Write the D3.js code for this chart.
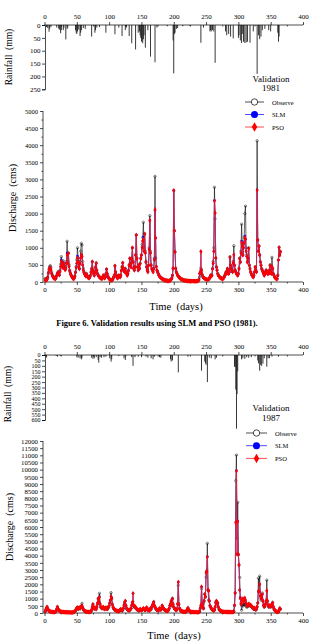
<!DOCTYPE html>
<html>
<head>
<meta charset="utf-8">
<script src="https://cdn.jsdelivr.net/npm/d3@7"></script>
<style>
  body { margin: 0; background: #fff; }
  svg { display: block; }
  text { font-family: "Liberation Serif", "Times New Roman", serif; fill: #000; }
</style>
</head>
<body>
<script>
// ---- data ----
var xTicks = [0, 50, 100, 150, 200, 250, 300, 350, 400];
var legendNames = ["Observe", "SLM", "PSO"];

// 1981: rainfall [day, mm]
var rain1981 = [[3,8],[5,12],[7,26],[8,15],[10,8],[19,10],[22,14],[23,18],[25,32],[26,20],[29,20],[30,12],[33,56],[35,15],[36,10],
  [48,20],[49,30],[50,35],[51,25],[53,18],[55,43],[56,30],[57,20],[60,12],[63,15],[73,45],[78,30],[79,20],[81,10],[85,8],[95,30],
  [109,36],[115,10],[120,43],[125,20],[127,10],[131,43],[135,71],[141,95],[145,30],[147,25],[148,40],[149,50],[150,65],[151,60],
  [152,71],[153,55],[154,40],[156,88],[160,20],[164,123],[171,145],[174,10],[190,5],[199,60],[200,188],[201,35],[202,30],[204,15],
  [206,12],[214,5],[225,3],[242,69],[246,10],[256,25],[257,20],[258,25],[260,20],[262,25],[264,147],[280,25],[282,40],[285,35],
  [288,45],[292,52],[300,50],[301,40],[303,60],[305,70],[306,35],[308,65],[310,70],[312,68],[314,65],[318,69],[323,25],[329,190],
  [331,40],[333,55],[335,45],[337,20],[341,15],[347,20],[350,25],[361,30],[362,65],[363,45]];

// 1981: daily discharge, day 1..365
var obs1981 = [
  100,90,80,90,120,250,380,450,480,420, 300,220,180,150,130,110,100,120,180,250,
  300,280,220,350,520,740,600,480,620,550, 420,380,450,600,1190,600,840,500,350,280,
  220,180,150,120,100,120,180,300,450,650, 1000,700,500,400,600,900,1130,1080,600,400,
  300,250,220,180,250,200,150,130,120,150, 200,300,400,595,350,250,200,300,450,565,
  350,250,200,180,150,130,120,110,100,150, 200,150,120,150,250,380,250,180,130,100,
  80,70,60,60,70,100,150,200,480,300, 200,150,120,150,200,180,150,200,350,450,
  565,400,350,300,400,300,250,200,250,350, 500,690,550,450,700,1000,600,400,350,450,
  800,1375,700,450,350,500,400,550,700,800, 1100,1300,1745,1000,1420,900,600,450,350,300,
  500,1000,1940,900,500,400,350,300,400,700, 3090,700,450,350,300,250,200,180,150,130,
  120,100,90,80,70,60,55,50,50,45, 40,40,45,50,60,80,120,200,400,2670,
  1500,880,400,300,250,200,180,150,130,110, 100,90,80,70,60,55,50,50,45,45,
  40,40,40,40,35,35,35,35,35,35, 35,30,30,30,30,35,40,50,70,150,
  250,400,300,200,150,130,110,100,90,80, 80,70,70,80,100,150,200,180,200,400,
  600,1000,2770,1850,700,450,350,250,200,180, 150,130,120,110,100,100,120,150,200,250,
  300,250,400,350,250,300,740,500,400,350, 300,600,1060,500,350,300,250,220,200,250,
  400,700,600,900,1690,1100,800,1100,1300,2000, 2220,1000,800,600,700,1000,500,400,300,250,
  200,180,150,200,300,450,350,300,4130,1230, 900,1050,800,600,500,400,350,300,250,200,
  250,300,350,300,250,300,250,350,500,300, 250,720,400,250,200,150,130,110,100,100,
  200,650,1020,800,900];
var pso1981 = [
  60,50,50,70,150,280,350,420,400,350, 250,180,150,120,100,100,90,150,200,250,
  280,250,200,300,450,600,500,420,560,500, 380,350,400,550,800,550,840,450,320,250,
  200,160,130,100,90,110,160,280,420,550, 700,600,450,380,550,700,800,750,500,350,
  280,230,200,170,230,180,140,120,110,140, 180,280,380,595,330,240,190,280,420,540,
  330,240,190,170,140,120,110,100,90,140, 190,140,110,140,230,370,240,170,120,90,
  70,60,50,50,60,90,140,190,470,290, 190,140,110,140,190,170,140,190,330,430,
  560,390,330,290,380,290,240,190,240,330, 480,690,530,430,680,1000,580,390,340,430,
  780,1375,680,430,340,480,390,530,680,780, 1000,1200,1250,900,1400,850,580,430,340,290,
  480,950,1800,850,480,380,340,290,380,650, 2130,1290,450,340,290,240,190,170,140,120,
  110,90,80,70,60,50,45,40,40,35, 30,30,35,40,50,70,110,190,400,2680,
  1500,880,390,290,240,190,170,140,120,100, 90,80,70,60,50,45,40,40,35,35,
  30,30,30,30,25,25,25,25,25,25, 25,20,20,20,20,25,30,40,60,250,
  300,890,350,220,160,130,110,100,90,80, 75,70,70,80,100,140,190,170,190,380,
  550,900,2370,2020,700,430,340,240,190,170, 140,120,110,100,90,90,110,140,190,240,
  290,240,380,340,240,290,720,480,380,340, 290,560,800,480,340,290,240,210,190,240,
  380,680,580,850,1150,1050,780,1000,1150,1300, 1250,900,750,580,680,980,480,380,290,240,
  190,170,140,190,290,430,340,290,2680,1230, 900,1050,780,580,480,380,340,290,240,190,
  240,290,340,290,240,290,240,340,480,290, 240,450,380,240,190,140,120,100,90,90,
  190,640,1000,780,880];
// SLM follows PSO almost everywhere; days where it differs
var slm1981Diff = {26: 650, 35: 850, 51: 760, 153: 1320, 171: 2100, 263: 2390, 305: 1200, 310: 1350, 329: 2700};

// 1987
var rain1987 = [[2,10],[3,22],[18,8],[20,15],[25,8],[50,20],[52,25],[55,30],[57,40],[58,25],[73,25],[75,35],[77,30],[80,20],
  [83,45],[84,70],[86,20],[88,25],[92,20],[95,15],[101,30],[103,62],[104,40],[115,10],[123,30],[125,46],[135,20],[137,100],
  [140,20],[145,15],[150,20],[157,15],[160,25],[165,30],[168,40],[170,15],[178,20],[180,25],[195,40],[196,60],[198,50],
  [207,160],[222,15],[243,145],[248,60],[249,77],[250,90],[252,250],[255,25],[258,30],[264,40],[266,25],[294,108],[295,110],
  [296,320],[297,680],[298,360],[299,150],[305,40],[307,30],[310,35],[313,20],[316,25],[320,20],[330,50],[331,77],[333,145],
  [334,90],[336,100],[338,80],[340,30],[344,108],[346,30],[348,30],[352,15],[362,15]];
var obs1987 = [
  100,200,300,440,300,200,150,120,100,90, 80,70,70,60,60,60,80,120,250,440,
  300,200,150,120,100,90,80,70,70,60, 60,55,55,50,50,50,45,45,45,45,
  40,40,40,50,60,80,100,150,250,300, 350,250,300,350,300,400,500,670,400,250,
  200,150,120,100,90,80,80,70,70,70, 80,100,200,400,630,400,300,350,300,250,
  400,600,1000,700,1370,600,400,350,300,350, 400,300,250,300,350,300,250,300,400,500,
  700,900,1420,1000,600,400,300,250,200,180, 150,130,120,110,100,150,200,250,200,150,
  200,300,500,700,840,500,300,250,200,180, 150,200,250,300,500,700,800,500,400,450,
  350,300,250,200,180,150,200,250,200,180, 200,250,300,250,200,180,250,350,300,200,
  180,150,200,300,250,400,500,600,770,500, 400,300,250,200,180,150,200,300,250,200,
  300,500,400,300,250,200,180,150,130,120, 150,200,300,500,600,800,500,1020,600,400,
  300,250,200,180,250,600,1930,600,300,200, 150,120,100,90,80,80,70,70,80,150,
  250,350,200,150,100,80,70,60,60,55, 50,50,50,50,50,45,45,50,60,100,
  300,500,1700,600,400,300,800,1330,1100,2500, 2900,4860,1600,900,800,500,400,300,250,200,
  180,150,200,400,700,840,600,700,400,250, 200,150,120,100,90,80,80,70,70,70,
  60,60,60,60,55,55,55,50,50,50, 50,60,100,500,1400,9230,11020,5200,7730,4050,
  3350,2480,1000,600,200,500,600,500,600,700, 600,500,400,450,500,600,500,550,500,450,
  400,350,300,250,300,250,200,250,400,700, 2430,1500,2570,1100,900,1200,1400,800,500,400,
  450,600,800,2300,800,500,400,450,500,400, 500,600,750,400,250,200,150,100,80,70,
  60,80,200,300,250];
var pso1987 = [
  100,250,350,420,300,200,150,120,100,90, 80,70,70,60,60,60,80,150,300,420,
  300,200,150,120,100,90,80,70,70,60, 60,55,55,50,50,50,45,45,45,45,
  40,40,40,50,60,80,120,200,300,350, 380,300,350,380,320,400,450,500,380,250,
  200,150,120,100,90,80,80,70,70,70, 80,120,250,450,600,400,300,380,320,280,
  450,700,1000,800,1100,650,420,380,330,380, 420,330,280,320,380,330,280,330,420,500,
  700,900,1150,1050,600,420,330,280,220,200, 170,150,140,130,120,170,230,280,220,170,
  230,330,550,750,840,520,330,280,230,200, 170,230,280,330,550,750,1370,550,430,480,
  380,330,280,230,200,170,230,280,230,200, 230,280,330,280,230,200,280,380,330,230,
  200,170,230,330,280,430,550,650,770,530, 430,330,280,230,200,170,230,330,280,230,
  330,520,430,330,280,230,200,170,150,140, 170,230,330,520,650,850,550,1000,620,420,
  330,280,230,200,280,650,2160,620,330,230, 170,140,120,100,90,90,80,80,90,170,
  280,350,230,170,120,90,80,70,70,65, 60,60,60,60,60,55,55,60,70,120,
  350,550,1840,650,430,330,850,1300,1150,2800, 2900,3900,1600,1550,850,530,430,330,280,230,
  200,170,230,430,750,840,650,720,430,280, 230,170,140,120,100,90,90,80,80,80,
  70,70,70,70,65,65,65,60,60,60, 60,70,120,550,1400,6300,9900,4100,6400,4100,
  3350,1600,1050,700,600,900,1000,800,1000,1050, 900,700,550,500,550,650,550,600,550,500,
  450,400,350,300,350,300,250,300,450,700, 1500,1500,2000,1200,1000,1100,1300,850,550,450,
  500,650,850,1550,850,550,450,500,550,450, 550,600,700,450,300,230,170,120,90,80,
  70,90,230,330,280];
var slm1987Diff = {85: 1150, 251: 2950, 252: 3950, 296: 6350, 297: 9950, 303: 1100};

// ---- drawing ----
var svg = d3.select("body").append("svg")
    .attr("width", 316)
    .attr("height", 641);

var x = d3.scaleLinear().domain([0, 400]).range([44.5, 303]);
var fmt = d3.format("d");

function toSeries(values) {
    return values.map(function (v, i) { return {day: i + 1, q: v}; });
}

function withDiff(base, diff) {
    return base.map(function (v, i) { return diff[i + 1] !== undefined ? diff[i + 1] : v; });
}

function styleAxis(g, size) {
    g.attr("font-family", null);
    g.selectAll("path, line").attr("stroke", "#000").attr("stroke-width", 0.7);
    g.selectAll("text").attr("font-size", size);
}

function DrawPanel(p) {
    var g = svg.append("g");

    // rainfall (hanging bars)
    var yRain = d3.scaleLinear().domain([0, p.rainMax]).range([p.rainTop, p.rainBottom]);

    g.append("g").selectAll("rect")
        .data(p.rain)
        .enter().append("rect")
        .attr("x", function (d) { return x(d[0]) - 0.45; })
        .attr("y", p.rainTop)
        .attr("width", 0.9)
        .attr("height", function (d) { return yRain(d[1]) - p.rainTop; })
        .attr("fill", "#222");

    var topAxis = g.append("g")
        .attr("transform", "translate(0," + p.rainTop + ")")
        .call(d3.axisTop(x).tickValues(xTicks).tickFormat(fmt).tickSize(3).tickPadding(3));
    topAxis.select(".domain").attr("d", "M" + x(0) + ",0H" + x(400));
    styleAxis(topAxis, 7);

    g.append("g")
        .attr("transform", "translate(0," + p.rainTop + ")")
        .call(d3.axisBottom(x).tickValues(d3.range(25, 400, 50)).tickSize(1.5).tickFormat(""))
        .call(function (a) { a.select(".domain").remove(); styleAxis(a, 7); });

    var rainAxis = g.append("g")
        .attr("transform", "translate(45,0)")
        .call(d3.axisLeft(yRain).tickValues(p.rainTicks).tickFormat(fmt).tickSize(3).tickPadding(1.5));
    styleAxis(rainAxis, p.rainFont);

    g.append("text")
        .attr("transform", "translate(" + p.rainLabelX + "," + p.rainLabelY + ") rotate(-90)")
        .attr("text-anchor", "middle")
        .attr("dominant-baseline", "central")
        .attr("font-size", 9.5)
        .text("Rainfall\u00a0 (mm)");

    g.append("text").attr("x", 271).attr("y", p.valY)
        .attr("text-anchor", "middle").attr("font-size", 9)
        .text("Validation");
    g.append("text").attr("x", 271).attr("y", p.valY + 9.5)
        .attr("text-anchor", "middle").attr("font-size", 9)
        .text(p.year);

    // discharge
    var y = d3.scaleLinear().domain([0, p.qMax]).range([p.qBottom, p.qTop]);

    var bottomAxis = g.append("g")
        .attr("transform", "translate(0," + p.qBottom + ")")
        .call(d3.axisBottom(x).tickValues(xTicks).tickFormat(fmt).tickSize(3).tickPadding(2.5));
    bottomAxis.select(".domain").attr("d", "M43,0H" + x(400));
    styleAxis(bottomAxis, 7);

    g.append("g")
        .attr("transform", "translate(0," + p.qBottom + ")")
        .call(d3.axisBottom(x).tickValues(d3.range(25, 400, 50)).tickSize(1.5).tickFormat(""))
        .call(function (a) { a.select(".domain").remove(); styleAxis(a, 7); });

    var qAxis = g.append("g")
        .attr("transform", "translate(43,0)")
        .call(d3.axisLeft(y).tickValues(d3.range(0, p.qMax + 1, 500)).tickFormat(fmt).tickSize(3).tickPadding(2));
    qAxis.select(".domain").attr("d", "M0," + p.qBottom + "V" + p.qTop);
    styleAxis(qAxis, p.qFont);

    if (p.qMinor) {
        g.append("g")
            .attr("transform", "translate(43,0)")
            .call(d3.axisLeft(y).tickValues(d3.range(250, p.qMax, 500)).tickSize(1.5).tickFormat(""))
            .call(function (a) { a.select(".domain").remove(); styleAxis(a, 6); });
    }

    g.append("text")
        .attr("transform", "translate(" + p.qLabelX + "," + p.qLabelY + ") rotate(-90)")
        .attr("text-anchor", "middle")
        .attr("dominant-baseline", "central")
        .attr("font-size", 10)
        .text("Discharge\u00a0 (cms)");

    g.append("text")
        .attr("x", p.timeX).attr("y", p.timeY)
        .attr("text-anchor", "middle")
        .attr("dominant-baseline", "central")
        .attr("font-size", 10.5)
        .text("Time\u00a0 (days)");

    var line = d3.line()
        .x(function (d) { return x(d.day); })
        .y(function (d) { return y(d.q); });

    var obs = toSeries(p.obs), slm = toSeries(p.slm), pso = toSeries(p.pso);

    // observed
    g.append("path").datum(obs)
        .attr("d", line).attr("fill", "none")
        .attr("stroke", "#000").attr("stroke-width", 0.6);
    g.append("g").selectAll("circle").data(obs).enter().append("circle")
        .attr("cx", function (d) { return x(d.day); })
        .attr("cy", function (d) { return y(d.q); })
        .attr("r", 1.2)
        .attr("fill", "none").attr("stroke", "#000").attr("stroke-width", 0.45);

    // SLM
    g.append("path").datum(slm)
        .attr("d", line).attr("fill", "none")
        .attr("stroke", "#2020ff").attr("stroke-width", 0.6);
    g.append("g").selectAll("circle").data(slm).enter().append("circle")
        .attr("cx", function (d) { return x(d.day); })
        .attr("cy", function (d) { return y(d.q); })
        .attr("r", 1.2)
        .attr("fill", "#0000ff");

    // PSO
    g.append("path").datum(pso)
        .attr("d", line).attr("fill", "none")
        .attr("stroke", "#ff2020").attr("stroke-width", 0.7);
    var diamond = d3.symbol().type(d3.symbolDiamond).size(7)();
    g.append("g").selectAll("path").data(pso).enter().append("path")
        .attr("d", diamond)
        .attr("transform", function (d) { return "translate(" + x(d.day) + "," + y(d.q) + ")"; })
        .attr("fill", "#ff0000");

    // legend
    var leg = g.append("g");
    var colors = ["#000", "#0000ff", "#ff0000"];
    legendNames.forEach(function (name, i) {
        var ly = p.legY + i * p.legStep;
        leg.append("line")
            .attr("x1", p.legX1).attr("x2", p.legX2)
            .attr("y1", ly).attr("y2", ly)
            .attr("stroke", colors[i]).attr("stroke-width", 0.7);
        var mx = (p.legX1 + p.legX2) / 2;
        if (i === 0) {
            leg.append("circle").attr("cx", mx).attr("cy", ly).attr("r", 3.2)
                .attr("fill", "#fff").attr("stroke", "#000").attr("stroke-width", 0.7);
        } else if (i === 1) {
            leg.append("circle").attr("cx", mx).attr("cy", ly).attr("r", 3.5)
                .attr("fill", "#0000ff");
        } else {
            leg.append("path").attr("d", d3.symbol().type(d3.symbolDiamond).size(26)())
                .attr("transform", "translate(" + mx + "," + ly + ")")
                .attr("fill", "#ff0000");
        }
        leg.append("text")
            .attr("x", p.legX2 + 8).attr("y", ly)
            .attr("dominant-baseline", "central")
            .attr("font-size", 6.5)
            .text(name);
    });
}

DrawPanel({
    year: "1981",
    rain: rain1981, rainMax: 250, rainTop: 25, rainBottom: 89.3,
    rainTicks: [0, 50, 100, 150, 200, 250], rainFont: 7,
    rainLabelX: 9, rainLabelY: 57, valY: 81.5,
    obs: obs1981, pso: pso1981, slm: withDiff(pso1981, slm1981Diff),
    qMax: 5000, qTop: 111, qBottom: 282, qFont: 6.5, qMinor: true,
    qLabelX: 12, qLabelY: 198, timeX: 176, timeY: 306,
    legY: 102, legStep: 12.5, legX1: 245, legX2: 264
});

DrawPanel({
    year: "1987",
    rain: rain1987, rainMax: 600, rainTop: 355, rainBottom: 420,
    rainTicks: d3.range(0, 601, 50), rainFont: 6,
    rainLabelX: 8, rainLabelY: 394, valY: 411,
    obs: obs1987, pso: pso1987, slm: withDiff(pso1987, slm1987Diff),
    qMax: 12000, qTop: 441, qBottom: 613, qFont: 6.8, qMinor: false,
    qLabelX: 9, qLabelY: 527, timeX: 174, timeY: 635,
    legY: 433, legStep: 12.7, legX1: 246, legX2: 267
});

svg.append("text")
    .attr("x", 157).attr("y", 323)
    .attr("text-anchor", "middle")
    .attr("dominant-baseline", "central")
    .attr("font-size", 8.5)
    .attr("font-weight", "bold")
    .text("Figure 6. Validation results using SLM and PSO (1981).");
</script>
</body>
</html>
